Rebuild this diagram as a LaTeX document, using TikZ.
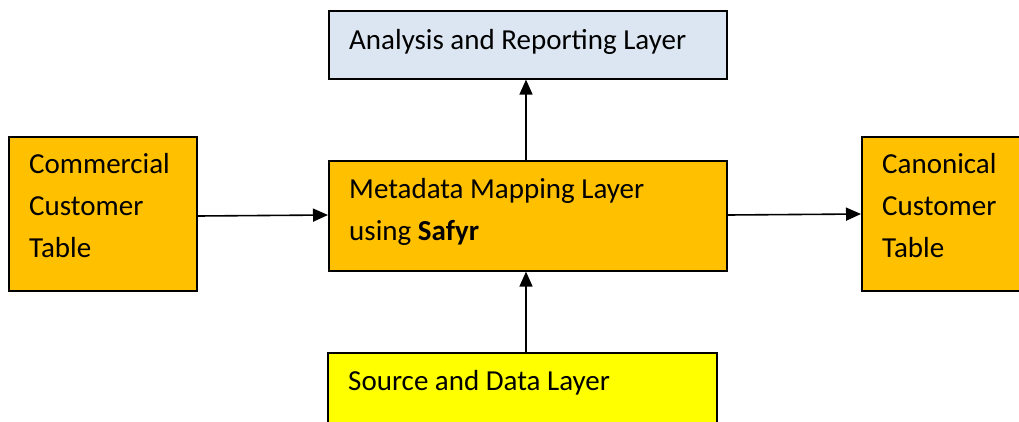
\documentclass[tikz,border=0pt]{standalone}
\usepackage{fontspec}
\setmainfont{Carlito}
\usetikzlibrary{arrows.meta}
\definecolor{orangefill}{HTML}{FFC000}
\definecolor{bluefill}{HTML}{DCE6F2}
\definecolor{yellowfill}{HTML}{FFFF00}
\begin{document}
\begin{tikzpicture}[x=1pt,y=-1pt,
  box/.style={draw=black,line width=1.6pt,rectangle,inner sep=0pt,anchor=north west},
  lbl/.style={anchor=base west,inner sep=0pt,font=\fontsize{29}{42}\selectfont},
  conn/.style={line width=1.6pt,-{Triangle[length=15pt,width=13pt]}}]
\useasboundingbox (0,0) rectangle (1019,421);
\clip (0,0) rectangle (1019,421);
% boxes
\node[box,fill=bluefill,minimum width=398pt,minimum height=68pt] (top) at (328,10) {};
\node[box,fill=orangefill,minimum width=188pt,minimum height=154pt] (left) at (8,136) {};
\node[box,fill=orangefill,minimum width=398pt,minimum height=110pt] (mid) at (328,160) {};
\node[box,fill=orangefill,minimum width=200pt,minimum height=154pt] (right) at (861,136) {};
\node[box,fill=yellowfill,minimum width=389pt,minimum height=120pt] (bot) at (327,352) {};
% labels
\node[lbl] (ttop) at (349,49) {Analysis and Reporting Layer};
\node[lbl] (tleft1) at (29,173) {Commercial};
\node[lbl] (tleft2) at (29,215) {Customer};
\node[lbl] (tleft3) at (29,257) {Table};
\node[lbl] (tmid1) at (349,198) {Metadata Mapping Layer};
\node[lbl] (tmid2) at (349,240) {using \textbf{Safyr}};
\node[lbl] (tright1) at (882,173) {Canonical};
\node[lbl] (tright2) at (882,215) {Customer};
\node[lbl] (tright3) at (882,257) {Table};
\node[lbl] (tbot) at (348,390) {Source and Data Layer};
% connectors
\draw[conn] (left.east |- 0,216) -- (mid.west |- 0,215);
\draw[conn] (mid.east |- 0,215) -- (right.west |- 0,214);
\draw[conn] (mid.north -| 526,0) -- (top.south -| 526,0);
\draw[conn] (bot.north -| 526,0) -- (mid.south -| 526,0);
\end{tikzpicture}
\end{document}
